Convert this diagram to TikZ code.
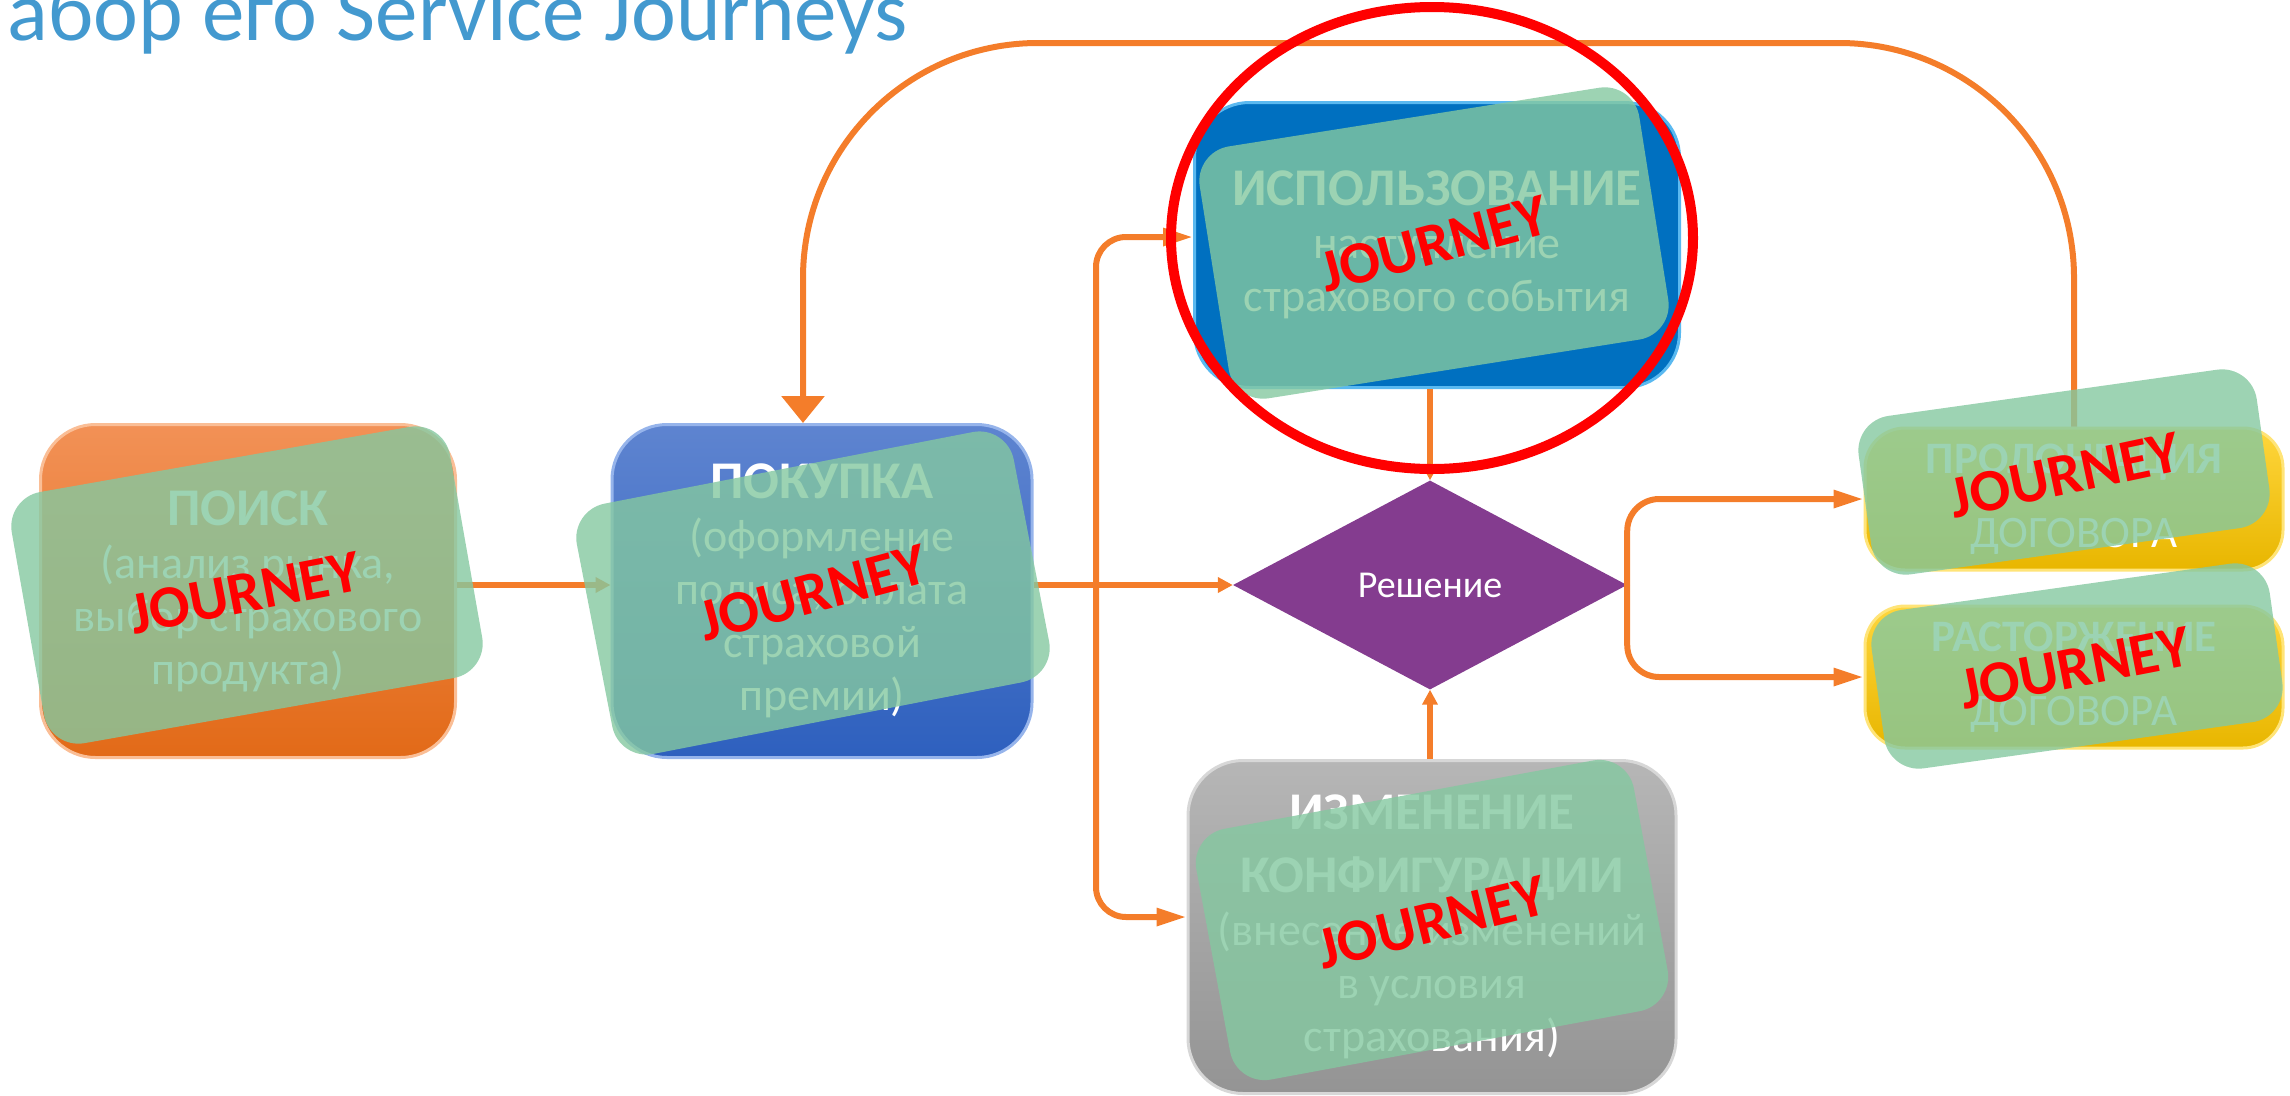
\documentclass[tikz,border=0pt]{standalone}
\usepackage{fontspec}
\setmainfont{Carlito}
\usetikzlibrary{arrows.meta,shapes.geometric}

\definecolor{titleblue}{RGB}{67,153,207}
\definecolor{lineorange}{RGB}{244,125,42}
\definecolor{poisktop}{RGB}{242,145,86}
\definecolor{poiskbot}{RGB}{226,106,24}
\definecolor{poiskrim}{RGB}{250,190,150}
\definecolor{buytop}{RGB}{94,132,208}
\definecolor{buybot}{RGB}{46,96,190}
\definecolor{buyrim}{RGB}{150,180,235}
\definecolor{useblue}{RGB}{0,112,192}
\definecolor{userim}{RGB}{90,185,240}
\definecolor{graytop}{RGB}{182,182,182}
\definecolor{graybot}{RGB}{148,148,148}
\definecolor{grayrim}{RGB}{215,215,215}
\definecolor{goldtop}{RGB}{255,214,60}
\definecolor{goldbot}{RGB}{232,182,0}
\definecolor{goldrim}{RGB}{255,228,120}
\definecolor{decision}{RGB}{132,60,143}
\definecolor{cardgreen}{RGB}{132,200,160}

\newcommand{\stagehead}{\bfseries\fontsize{53}{63}\selectfont}

\tikzset{
	stagebox/.style={rounded corners=55pt, align=center, text=white, inner sep=0pt, line width=3pt, font=\fontsize{46}{53}\selectfont},
	endbox/.style={rounded corners=40pt, align=center, text=white, inner sep=0pt, line width=3pt, top color=goldtop, bottom color=goldbot, draw=goldrim, minimum width=418pt, minimum height=142pt, font=\fontsize{45}{74}\selectfont},
	card/.style={rounded corners=35pt, fill=cardgreen, fill opacity=0.8, minimum width=445pt, minimum height=255pt},
	smallcard/.style={card, minimum width=402pt, minimum height=160pt},
	stamp/.style={text=red, font=\bfseries\fontsize{60}{64}\selectfont},
	flow/.style={draw=lineorange, line width=6pt},
	shorttip/.style={-{Triangle[length=15pt,width=15pt]}},
	longtip/.style={-{Triangle[length=30pt,width=17pt]}},
	bigtip/.style={-{Triangle[length=27pt,width=42pt]}}
}

\begin{document}
\begin{tikzpicture}[x=1pt,y=-1pt]
	\useasboundingbox (0,0) rectangle (2290,1095);
	\node (title) [anchor=base west, text=titleblue, font=\fontsize{85}{90}\selectfont] at (4,40) {абор его Service Journeys};

	\node (poisk) [stagebox, top color=poisktop, bottom color=poiskbot, draw=poiskrim, minimum width=415pt, minimum height=333pt] at (248,591) {{\stagehead ПОИСК}\\(анализ рынка,\\выбор страхового\\продукта)};
	\node (pokupka) [stagebox, top color=buytop, bottom color=buybot, draw=buyrim, minimum width=420pt, minimum height=333pt] at (822,591) {{\stagehead ПОКУПКА}\\(оформление\\полиса, оплата\\страховой\\премии)};
	\node (ispolz) [stagebox, fill=useblue, draw=userim, minimum width=485pt, minimum height=285pt] at (1437,245) {{\stagehead ИСПОЛЬЗОВАНИЕ}\\наступление\\страхового события};
	\node (izmen) [stagebox, top color=graytop, bottom color=graybot, draw=grayrim, minimum width=488pt, minimum height=333pt] at (1432,927) {{\stagehead ИЗМЕНЕНИЕ}\\[10pt]{\stagehead КОНФИГУРАЦИИ}\\(внесение изменений\\в условия\\страхования)};
	\node (reshenie) [diamond, fill=decision, aspect=1.88, minimum width=394pt, minimum height=209pt, inner sep=0pt, text=white, font=\fontsize{38}{44}\selectfont] at (1430,585) {Решение};
	\node (prolong) [endbox] at (2074,499) {{\bfseries ПРОЛОНГАЦИЯ}\\ДОГОВОРА};
	\node (rastorzh) [endbox] at (2074,677) {{\bfseries РАСТОРЖЕНИЕ}\\ДОГОВОРА};

	\coordinate (split) at (1096,585);
	\coordinate (looptop) at (0,43);
	\coordinate (buyin) at ([xshift=-19pt]pokupka.north);
	\draw [flow, shorttip] (poisk.east |- reshenie.west) -- (pokupka.west |- reshenie.west);
	\draw [flow, shorttip] (pokupka.east |- reshenie.west) -- (reshenie.west);
	\draw [flow, longtip, rounded corners=30pt] (split) |- ([yshift=8pt]ispolz.west);
	\draw [flow, longtip, rounded corners=30pt] (split) |- ([yshift=10pt]izmen.west);
	\draw [flow, shorttip] (ispolz.south -| reshenie.north) -- (reshenie.north);
	\draw [flow, shorttip] (izmen.north -| reshenie.south) -- (reshenie.south);
	\draw [flow, longtip, rounded corners=32pt] (reshenie.east) |- (prolong.west);
	\draw [flow, longtip, rounded corners=32pt] (reshenie.east) |- (rastorzh.west);
	\draw [flow, bigtip, rounded corners=235pt] (prolong.north) -- (prolong.north |- looptop) -- (buyin |- looptop) -- (buyin);

	\node (poiskcard) [card, rotate=10] at (247,585) {};
	\node (pokupkacard) [card, rotate=11] at (813,593) {};
	\node (ispolzcard) [card, rotate=9] at (1434,243) {};
	\node (izmencard) [card, rotate=10.5] at (1432,920) {};
	\node (prolongcard) [smallcard, rotate=8] at (2064,472) {};
	\node (rastorzhcard) [smallcard, rotate=8] at (2077,666) {};

	\node (poiskstamp) [stamp, rotate=11] at (245,593) {JOURNEY};
	\node (pokupkastamp) [stamp, rotate=15] at (813,593) {JOURNEY};
	\node (ispolzstamp) [stamp, rotate=15] at (1434,244) {JOURNEY};
	\node (izmenstamp) [stamp, rotate=14] at (1432,922) {JOURNEY};
	\node (prolongstamp) [stamp, rotate=12] at (2065,475) {JOURNEY};
	\node (rastorzhstamp) [stamp, rotate=11] at (2075,668) {JOURNEY};

	\draw [red, line width=10pt] (1432,238) circle [x radius=261, y radius=231];
\end{tikzpicture}
\end{document}
